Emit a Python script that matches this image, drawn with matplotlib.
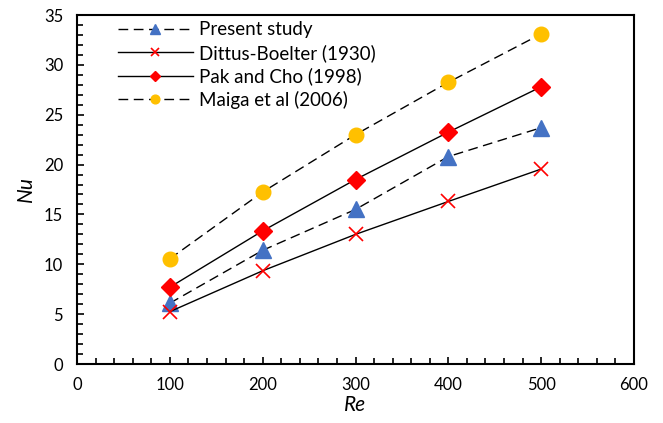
import matplotlib
matplotlib.use("Agg")
import matplotlib.pyplot as plt
from matplotlib.ticker import MultipleLocator

plt.rcParams['font.family'] = ['Lato', 'DejaVu Sans']

re_vals = [100, 200, 300, 400, 500]
present = [6.1, 11.4, 15.5, 20.8, 23.7]
dittus = [5.25, 9.35, 13.0, 16.3, 19.55]
pak = [7.7, 13.35, 18.5, 23.25, 27.8]
maiga = [10.55, 17.25, 23.0, 28.25, 33.1]

labels = ['Present study', 'Dittus-Boelter (1930)', 'Pak and Cho (1998)', 'Maiga et al (2006)']

fig = plt.figure(figsize=(6.63, 4.23), dpi=100)
ax = fig.add_axes([77/663, (423-364)/423, (634-77)/663, (364-15)/423])

dash = (0, (7, 4))
ax.plot(re_vals, present, color='black', lw=1, linestyle=dash, marker='^', ms=11,
        mfc='#4472C4', mec='#4472C4', label=labels[0])
ax.plot(re_vals, dittus, color='black', lw=1, linestyle='-', marker='x', ms=10,
        mec='#FF0000', mew=1.2, label=labels[1])
ax.plot(re_vals, pak, color='black', lw=1, linestyle='-', marker='D', ms=9,
        mfc='#FF0000', mec='#FF0000', label=labels[2])
ax.plot(re_vals, maiga, color='black', lw=1, linestyle=dash, marker='o', ms=10.5,
        mfc='#FFC000', mec='#FFC000', label=labels[3])

ax.set_xlim(0, 600)
ax.set_ylim(0, 35)
ax.xaxis.set_major_locator(MultipleLocator(100))
ax.xaxis.set_minor_locator(MultipleLocator(20))
ax.yaxis.set_major_locator(MultipleLocator(5))
ax.yaxis.set_minor_locator(MultipleLocator(1))
ax.tick_params(which='major', direction='in', length=5, width=1.2, labelsize=12, pad=9, color='black')
ax.tick_params(which='minor', direction='in', length=4, width=1.2)
ax.tick_params(top=False, right=False, which='both')
ax.tick_params(axis='y', which='major', pad=10)
for s in ax.spines.values():
    s.set_linewidth(1.5)

ax.set_xlabel('Re', fontsize=15, style='italic', labelpad=2)
ax.set_ylabel('Nu', fontsize=15, style='italic', labelpad=6)

leg = ax.legend(loc='upper left', bbox_to_anchor=(0.05, 1.02), frameon=False, fontsize=13.5,
                markerscale=0.6, handlelength=4.0, handletextpad=0.3, labelspacing=0.3,
                borderaxespad=0.3)

fig.savefig('out.png', dpi=100)
